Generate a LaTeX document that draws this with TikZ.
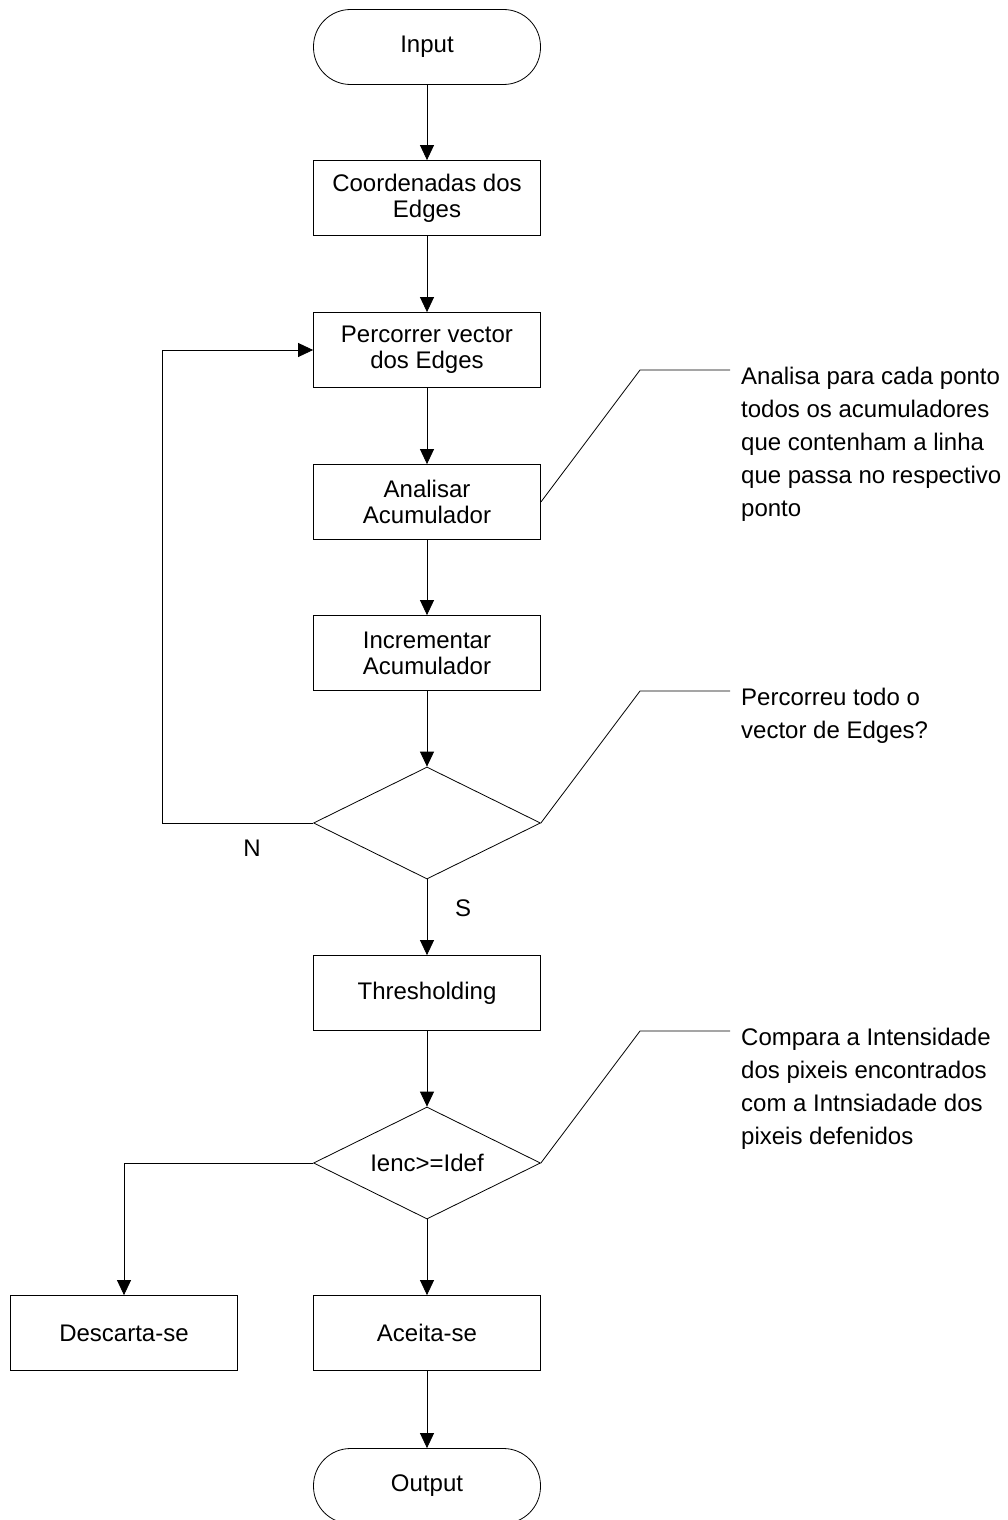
\documentclass[tikz,border=0pt]{standalone}
\usepackage{fontspec}
\setmainfont{Liberation Sans}
\usetikzlibrary{arrows.meta,shapes.geometric}

\begin{document}
\begin{tikzpicture}[
  x=1pt, y=-1pt,
  font=\fontsize{24}{26}\selectfont,
  procbox/.style={rectangle, draw, line width=0.8pt, minimum width=227pt, minimum height=75pt, align=center, inner sep=0pt},
  terminal/.style={procbox, rounded corners=37pt},
  decision/.style={diamond, draw, line width=0.8pt, minimum width=227pt, minimum height=112pt, shape aspect=2, inner sep=0pt},
  note/.style={anchor=north west, align=left, inner sep=0pt, font=\fontsize{24}{33}\selectfont},
  flow/.style={line width=0.8pt, -{Triangle[length=15pt,width=14pt]}},
  leader/.style={line width=0.8pt}
]
\useasboundingbox (0,0) rectangle (1007,1520);

% Main column of the flowchart.
\node[terminal] (input) at (427,47) {Input};
\node[procbox] (coords) at (427,198) {Coordenadas dos\\Edges};
\node[procbox] (percorrer) at (427,350) {Percorrer vector\\dos Edges};
\node[procbox] (analisar) at (427,502) {Analisar\\Acumulador};
\node[procbox] (incrementar) at (427,653) {Incrementar\\Acumulador};
\node[decision] (fimvector) at (427,823) {};
\node[procbox] (threshold) at (427,993) {Thresholding};
\node[decision] (comparar) at (427,1163) {Ienc>=Idef};
\node[procbox] (descarta) at (124,1333) {Descarta-se};
\node[procbox] (aceita) at (427,1333) {Aceita-se};
\node[terminal] (output) at (427,1486) {Output};

% Forward flow.
\draw[flow] (input) -- (coords);
\draw[flow] (coords) -- (percorrer);
\draw[flow] (percorrer) -- (analisar);
\draw[flow] (analisar) -- (incrementar);
\draw[flow] (incrementar) -- (fimvector);
\draw[flow] (fimvector) -- (threshold);
\draw[flow] (threshold) -- (comparar);
\draw[flow] (comparar) -- (aceita);
\draw[flow] (comparar.west) -| (descarta.north);
\draw[flow] (aceita) -- (output);

% Loop back when the vector is not finished.
\draw[flow] (fimvector.west) -- (162,823) |- (percorrer.west);
\node (nao) at (252,848) {N};
\node (sim) at (463,908) {S};

% Annotations.
\coordinate (bendA) at (640,370);
\coordinate (endA) at (730,370);
\draw[leader] (analisar.east) -- (bendA) -- (endA);
\node[note] (noteA) at (741,367) {Analisa para cada ponto\\todos os acumuladores\\que contenham a linha\\que passa no respectivo\\ponto};

\coordinate (bendB) at (640,691);
\coordinate (endB) at (730,691);
\draw[leader] (fimvector.east) -- (bendB) -- (endB);
\node[note] (noteB) at (741,688) {Percorreu todo o\\vector de Edges?};

\coordinate (bendC) at (640,1031);
\coordinate (endC) at (730,1031);
\draw[leader] (comparar.east) -- (bendC) -- (endC);
\node[note] (noteC) at (741,1028) {Compara a Intensidade\\dos pixeis encontrados\\com a Intnsiadade dos\\pixeis defenidos};

\end{tikzpicture}
\end{document}
